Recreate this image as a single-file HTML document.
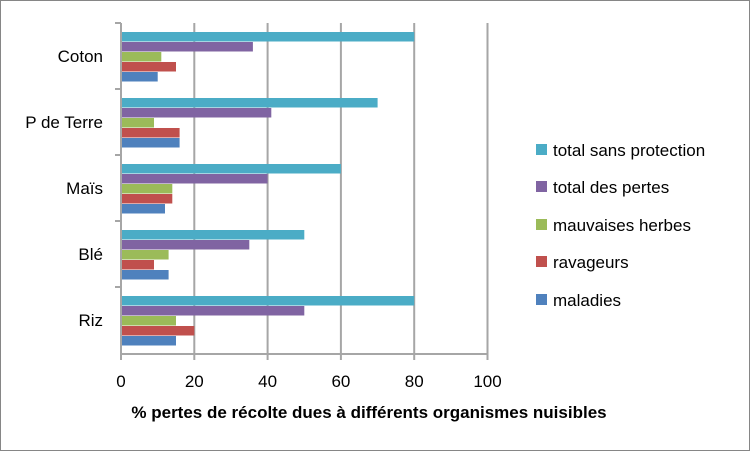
<!DOCTYPE html>
<html><head><meta charset="utf-8"><style>
body{margin:0;background:#fff}
svg{display:block;font-family:"Liberation Sans",Arial,sans-serif}
</style></head><body>
<svg width="750" height="451" viewBox="0 0 750 451">
<rect x="0.5" y="0.5" width="749" height="450" fill="#fff" stroke="#868686"/>
<g stroke="#a6a6a6" stroke-width="2">
<line x1="194.3" y1="23" x2="194.3" y2="354"/>
<line x1="267.6" y1="23" x2="267.6" y2="354"/>
<line x1="340.9" y1="23" x2="340.9" y2="354"/>
<line x1="414.2" y1="23" x2="414.2" y2="354"/>
<line x1="487.5" y1="23" x2="487.5" y2="354"/>
</g>
<g>
<rect x="121" y="32" width="293.2" height="9.5" fill="#4bacc6"/>
<rect x="121" y="42" width="131.9" height="9.5" fill="#8064a2"/>
<rect x="121" y="52" width="40.3" height="9.5" fill="#9bbb59"/>
<rect x="121" y="62" width="55.0" height="9.5" fill="#c0504d"/>
<rect x="121" y="72" width="36.7" height="9.5" fill="#4f81bd"/>

<rect x="121" y="98" width="256.6" height="9.5" fill="#4bacc6"/>
<rect x="121" y="108" width="150.3" height="9.5" fill="#8064a2"/>
<rect x="121" y="118" width="33.0" height="9.5" fill="#9bbb59"/>
<rect x="121" y="128" width="58.6" height="9.5" fill="#c0504d"/>
<rect x="121" y="138" width="58.6" height="9.5" fill="#4f81bd"/>

<rect x="121" y="164" width="219.9" height="9.5" fill="#4bacc6"/>
<rect x="121" y="174" width="146.6" height="9.5" fill="#8064a2"/>
<rect x="121" y="184" width="51.3" height="9.5" fill="#9bbb59"/>
<rect x="121" y="194" width="51.3" height="9.5" fill="#c0504d"/>
<rect x="121" y="204" width="44.0" height="9.5" fill="#4f81bd"/>

<rect x="121" y="230" width="183.3" height="9.5" fill="#4bacc6"/>
<rect x="121" y="240" width="128.3" height="9.5" fill="#8064a2"/>
<rect x="121" y="250" width="47.6" height="9.5" fill="#9bbb59"/>
<rect x="121" y="260" width="33.0" height="9.5" fill="#c0504d"/>
<rect x="121" y="270" width="47.6" height="9.5" fill="#4f81bd"/>

<rect x="121" y="296" width="293.2" height="9.5" fill="#4bacc6"/>
<rect x="121" y="306" width="183.3" height="9.5" fill="#8064a2"/>
<rect x="121" y="316" width="55.0" height="9.5" fill="#9bbb59"/>
<rect x="121" y="326" width="73.3" height="9.5" fill="#c0504d"/>
<rect x="121" y="336" width="55.0" height="9.5" fill="#4f81bd"/>
</g>
<g stroke="#a6a6a6" stroke-width="2">
<line x1="121" y1="23" x2="121" y2="354"/>
<line x1="120" y1="354" x2="488" y2="354"/>
<line x1="121" y1="354" x2="121" y2="360"/><line x1="194.3" y1="354" x2="194.3" y2="360"/><line x1="267.6" y1="354" x2="267.6" y2="360"/><line x1="340.9" y1="354" x2="340.9" y2="360"/><line x1="414.2" y1="354" x2="414.2" y2="360"/><line x1="487.5" y1="354" x2="487.5" y2="360"/>
<line x1="115" y1="23" x2="121" y2="23"/><line x1="115" y1="89" x2="121" y2="89"/><line x1="115" y1="155" x2="121" y2="155"/><line x1="115" y1="221" x2="121" y2="221"/><line x1="115" y1="287" x2="121" y2="287"/>
</g>
<g font-size="17" fill="#000" text-anchor="end">
<text x="103" y="62">Coton</text>
<text x="103" y="128">P de Terre</text>
<text x="103" y="194">Maïs</text>
<text x="103" y="260">Blé</text>
<text x="103" y="326">Riz</text>
</g>
<g font-size="17" fill="#000" text-anchor="middle">
<text x="121" y="387">0</text><text x="194.3" y="387">20</text><text x="267.6" y="387">40</text><text x="340.9" y="387">60</text><text x="414.2" y="387">80</text><text x="487.5" y="387">100</text>
</g>
<text x="369" y="418" font-size="17" font-weight="bold" text-anchor="middle">% pertes de récolte dues à différents organismes nuisibles</text>
<g font-size="17">
<rect x="536" y="144" width="11" height="11" fill="#4bacc6"/><text x="553" y="156">total sans protection</text>
<rect x="536" y="181" width="11" height="11" fill="#8064a2"/><text x="553" y="193">total des pertes</text>
<rect x="536" y="219" width="11" height="11" fill="#9bbb59"/><text x="553" y="231">mauvaises herbes</text>
<rect x="536" y="256" width="11" height="11" fill="#c0504d"/><text x="553" y="268">ravageurs</text>
<rect x="536" y="294" width="11" height="11" fill="#4f81bd"/><text x="553" y="306">maladies</text>
</g>
</svg>
</body></html>
